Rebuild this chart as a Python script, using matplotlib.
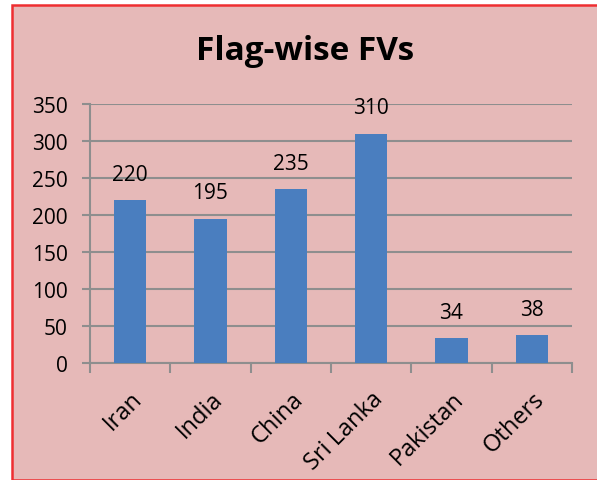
import matplotlib
matplotlib.use("Agg")
import matplotlib.pyplot as plt
from matplotlib.patches import Rectangle
import numpy as np

categories = ["Iran", "India", "China", "Sri Lanka", "Pakistan", "Others"]
values = [220, 195, 235, 310, 34, 38]
yticks = [0, 50, 100, 150, 200, 250, 300, 350]

plt.rcParams['font.family'] = ['Open Sans', 'DejaVu Sans']

W, H = 597, 481
fig = plt.figure(figsize=(W/100, H/100), dpi=100, facecolor='white')
bg = Rectangle((11.5/W, 0), 1 - 11.5/W + 0.01, (H - 5.5)/H, transform=fig.transFigure,
               facecolor='#E6B9B8', edgecolor='#EE2E31', linewidth=1.8, zorder=-10)
fig.patches.append(bg)

ax = fig.add_axes([90/W, 1 - 364/H, (572 - 90)/W, (364 - 105)/H])
ax.set_zorder(1)
ax.set_facecolor('none')
grid_c = '#8E8E8E'
x = np.arange(len(categories))
ax.bar(x, values, width=0.4, color='#4A7EBF', zorder=3)
ax.set_xlim(-0.5, len(categories) - 0.5)
ax.set_ylim(0, 350)
ax.set_yticks(yticks)
ax.set_yticklabels([str(v) for v in yticks], fontsize=15)
ax.yaxis.grid(True, color=grid_c, linewidth=1.5, zorder=0)
ax.set_axisbelow(True)
for s in ['top', 'right']:
    ax.spines[s].set_visible(False)
for s in ['left', 'bottom']:
    ax.spines[s].set_color(grid_c)
    ax.spines[s].set_linewidth(1.5)
ax.tick_params(axis='y', length=6, width=1.5, color=grid_c, pad=10)

ax.set_xticks(np.arange(-0.5, len(categories)))
ax.set_xticklabels([])
ax.set_xticks(x, minor=True)
ax.set_xticklabels(categories, minor=True, rotation=45, ha='right',
                   rotation_mode='anchor', fontsize=17)
ax.tick_params(axis='x', which='major', length=7, width=1.5, color=grid_c)
ax.tick_params(axis='x', which='minor', length=0, pad=17)

for xi, v in zip(x, values):
    ax.annotate(str(v), (xi, v), xytext=(0, 11), textcoords='offset points',
                ha='center', va='bottom', fontsize=15)

fig.text(305/W, 1 - 51/H, "Flag-wise FVs", ha='center', va='center',
         fontsize=24, fontweight='bold')

fig.savefig("out.png", dpi=100, facecolor=fig.get_facecolor())
